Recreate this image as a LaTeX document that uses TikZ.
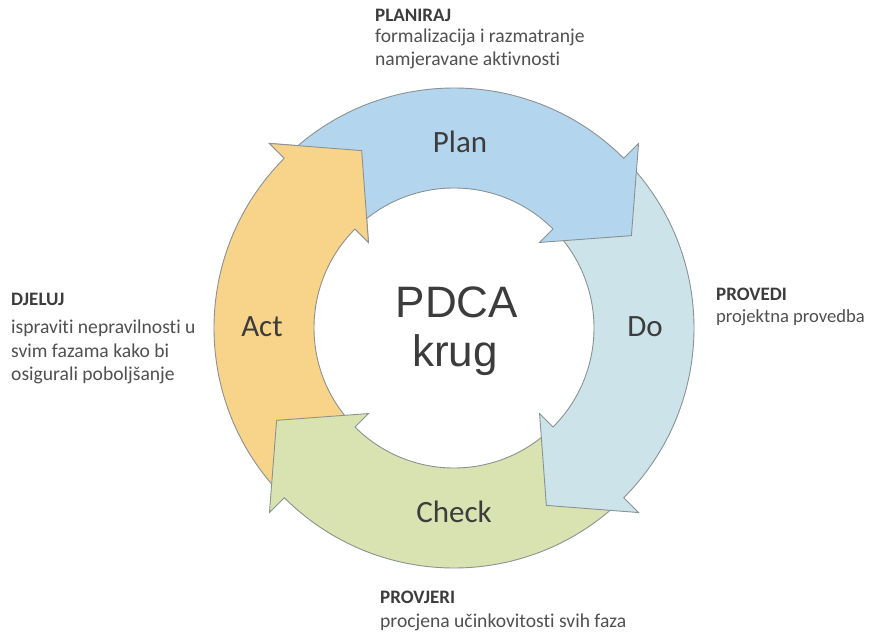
\documentclass[tikz,border=0pt]{standalone}
\usepackage{fontspec}
\setmainfont{Carlito}[Ligatures={NoCommon}]
\newfontfamily\arialfont{Liberation Sans}
\usetikzlibrary{calc}
\definecolor{planC}{HTML}{B4D5EE}
\definecolor{doC}{HTML}{CCE3EA}
\definecolor{checkC}{HTML}{D9E3B1}
\definecolor{actC}{HTML}{F8D38A}
\definecolor{edgeC}{HTML}{8A9292}
\definecolor{txtC}{HTML}{3C3C3C}
\definecolor{descC}{HTML}{505050}
\tikzset{
  ringedge/.style={draw=edgeC, line width=0.9pt, line join=miter},
  hdr/.style={font=\bfseries\fontsize{19}{22}\selectfont, text=txtC, inner sep=0pt, anchor=base west},
  desc/.style={font=\fontsize{19.6}{22}\selectfont, text=descC, inner sep=0pt, anchor=base west},
  phase/.style={font=\fontsize{31}{36}\selectfont, text=txtC, inner sep=0pt, anchor=base},
  centre/.style={font=\arialfont\fontsize{44}{49}\selectfont, text=txtC, inner sep=0pt, anchor=base}
}
% #1 tail angle, #2 head base angle, #3 colour
\newcommand{\cyclearrow}[3]{%
  \draw[ringedge, fill=#3] ($(C)+(#1:240)$) arc[start angle=#1, end angle=#2, radius=240]
    -- ($(C)+(#2:261)$) -- ($(C)+(#2-17.5:200)$) -- ($(C)+(#2:121)$) -- ($(C)+(#2:140)$)
    arc[start angle=#2, end angle=#1, radius=140] -- cycle;}
\begin{document}
\begin{tikzpicture}[x=1pt, y=1pt]
\useasboundingbox (0,0) rectangle (869,632);
\fill[white] (0,0) rectangle (869,632);
\coordinate (C) at (454,304);
% ring arrows
\cyclearrow{-137}{-225}{actC}
\cyclearrow{-47}{-135}{checkC}
\cyclearrow{43}{-45}{doC}
\cyclearrow{133}{45}{planC}
% Act head on top of Plan tail
\fill[actC] ($(C)+(135:261)$) -- ($(C)+(117.5:200)$) -- ($(C)+(135:121)$) -- cycle;
\draw[ringedge] ($(C)+(135:240)$) -- ($(C)+(135:261)$) -- ($(C)+(117.5:200)$) -- ($(C)+(135:121)$) -- ($(C)+(135:140)$);
% phase labels
\node[phase] (plan) at (460,479) {Plan};
\node[phase] (do) at (645,295) {Do};
\node[phase] (act) at (262,295) {Act};
\node[phase] (check) at (454,110) {Check};
% centre
\node[centre] (pdca) at (457,314) {PDCA};
\node[centre] (krug) at (455,265) {krug};
% side texts
\node[hdr] (planh) at (375,610) {PLANIRAJ};
\node[desc] (plan1) at (375,589) {formalizacija i razmatranje};
\node[desc] (plan2) at (375,566) {namjeravane aktivnosti};
\node[hdr] (doh) at (716,331) {PROVEDI};
\node[desc, font=\fontsize{18.6}{22}\selectfont] (do1) at (716,309) {projektna provedba};
\node[hdr] (checkh) at (380,29) {PROVJERI};
\node[desc] (check1) at (380,5) {procjena učinkovitosti svih faza};
\node[hdr] (acth) at (11,326) {DJELUJ};
\node[desc] (act1) at (11,298) {ispraviti nepravilnosti u};
\node[desc] (act2) at (11,274) {svim fazama kako bi};
\node[desc] (act3) at (11,251) {osigurali poboljšanje};
\end{tikzpicture}
\end{document}
